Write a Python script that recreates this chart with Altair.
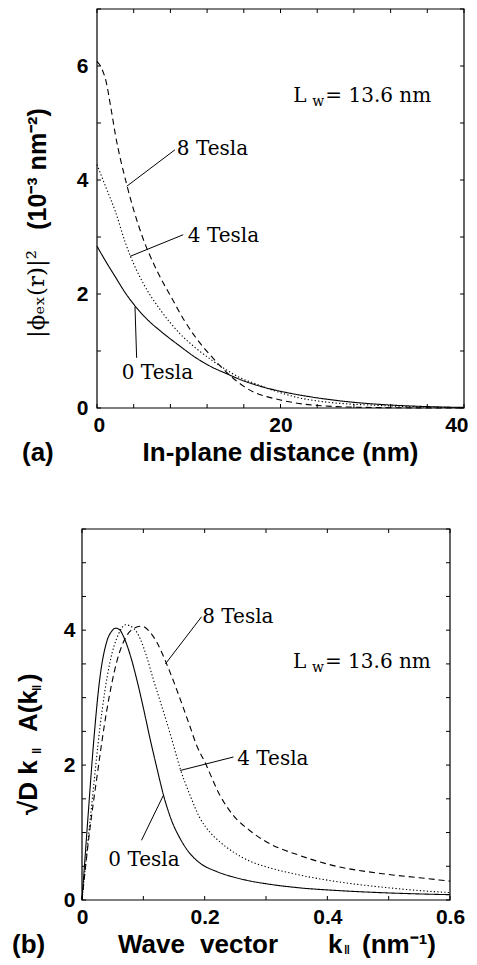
import altair as alt
import pandas as pd

SERIES = ["0 Tesla", "4 Tesla", "8 Tesla"]
DASHES = [[1, 0], [1.3, 2.2], [6, 4]]

# ---------------- Panel (a): |phi_ex(r)|^2 (1e-3 nm^-2) vs in-plane distance (nm)
a_r_0T = [0, 1, 2, 3, 4.1, 5.5, 7, 9, 10.7, 12.5, 14.3, 15.6, 17.2, 19, 21, 23.5, 26.5, 29, 32, 35, 37.5, 40]
a_v_0T = [2.84, 2.56, 2.30, 2.04, 1.80, 1.55, 1.34, 1.09, 0.89, 0.72, 0.59, 0.50, 0.41, 0.33, 0.26, 0.19, 0.125, 0.085, 0.052, 0.03, 0.018, 0.01]
a_r_4T = [0, 1, 2, 3.05, 3.6, 5, 7, 9, 10.7, 12.5, 14.3, 15.6, 17.2, 19.2, 22, 24.7, 27, 30, 34, 37, 40]
a_v_4T = [4.27, 3.86, 3.45, 2.92, 2.68, 2.2, 1.70, 1.31, 1.06, 0.84, 0.65, 0.53, 0.43, 0.31, 0.18, 0.11, 0.075, 0.05, 0.025, 0.012, 0.005]
a_r_8T = [0, 0.5, 1, 1.5, 2, 3.24, 4.87, 6.5, 8.14, 9.5, 10.7, 12.5, 14.3, 16, 17.2, 18.5, 20, 22, 24, 26, 28, 32, 40]
a_v_8T = [6.08, 5.96, 5.72, 5.28, 4.8, 3.92, 3.04, 2.42, 1.93, 1.54, 1.25, 0.9, 0.6, 0.38, 0.27, 0.2, 0.14, 0.08, 0.045, 0.025, 0.015, 0.005, 0]

a_lab_x = [2.7, 9.9, 8.7]
a_lab_y = [0.61, 3.01, 4.55]
a_lead_x1 = [4.14, 3.6, 3.24]
a_lead_y1 = [1.78, 2.66, 3.89]
a_lead_x2 = [4.32, 9.4, 8.5]
a_lead_y2 = [0.88, 3.04, 4.53]
a_lw_x = [21.4]
a_lw_y = [5.36]

# ---------------- Panel (b): sqrt(D) k A(k) vs wave vector k (nm^-1)
b_k_0T = [0, 0.01, 0.0185, 0.029, 0.040, 0.048, 0.055, 0.061, 0.067, 0.078, 0.089, 0.10, 0.111, 0.122, 0.133, 0.146, 0.16, 0.175, 0.192, 0.22, 0.247, 0.275, 0.301, 0.355, 0.41, 0.49, 0.55, 0.6]
b_v_0T = [0, 1.26, 2.29, 3.28, 3.82, 3.98, 4.03, 4.01, 3.92, 3.65, 3.28, 2.85, 2.39, 1.96, 1.55, 1.18, 0.91, 0.70, 0.55, 0.42, 0.34, 0.28, 0.24, 0.18, 0.144, 0.108, 0.09, 0.079]
b_k_4T = [0, 0.0076, 0.018, 0.029, 0.0457, 0.06, 0.071, 0.085, 0.095, 0.105, 0.116, 0.127, 0.138, 0.149, 0.16, 0.175, 0.192, 0.209, 0.225, 0.247, 0.275, 0.301, 0.355, 0.41, 0.49, 0.55, 0.6]
b_v_4T = [0, 0.68, 1.6, 2.54, 3.53, 3.95, 4.08, 4.02, 3.87, 3.62, 3.28, 2.96, 2.64, 2.3, 1.95, 1.58, 1.22, 1.0, 0.86, 0.71, 0.57, 0.49, 0.37, 0.28, 0.19, 0.14, 0.11]
b_k_8T = [0, 0.013, 0.024, 0.040, 0.0566, 0.073, 0.085, 0.097, 0.11, 0.122, 0.138, 0.149, 0.16, 0.175, 0.187, 0.2, 0.225, 0.247, 0.275, 0.301, 0.355, 0.41, 0.49, 0.55, 0.6]
b_v_8T = [0, 1.06, 1.80, 2.79, 3.53, 3.92, 4.03, 4.06, 3.98, 3.82, 3.5, 3.25, 2.98, 2.6, 2.29, 2.05, 1.55, 1.25, 1.02, 0.86, 0.66, 0.51, 0.39, 0.33, 0.28]

b_lab_x = [0.043, 0.253, 0.196]
b_lab_y = [0.59, 2.09, 4.2]
b_lead_x1 = [0.1326, 0.16, 0.136]
b_lead_y1 = [1.55, 1.92, 3.50]
b_lead_x2 = [0.097, 0.247, 0.195]
b_lead_y2 = [0.885, 2.12, 4.2]
b_lw_x = [0.344]
b_lw_y = [3.44]

a_xdom = [0, 40]
a_ydom = [0, 7]
b_xdom = [0, 0.6]
b_ydom = [0, 5.5]
a_xticks = list(range(0, 41, 4))
a_yticks = list(range(0, 8))
b_xticks = [round(i * 0.1, 1) for i in range(7)]
b_yticks = [i * 0.5 for i in range(12)]
a_xlabels = [0, 20, 40]
a_ylabels = [0, 2, 4, 6]
b_xlabels = [0, 0.2, 0.4, 0.6]
b_ylabels = [0, 2, 4]

SANS = "Liberation Sans"
SERIF = "DejaVu Serif"
ONE = pd.DataFrame({"k": [0]})
TICK = 4


def long_df(xs_list, ys_list):
    rows = []
    for name, xs, ys in zip(SERIES, xs_list, ys_list):
        for x, y in zip(xs, ys):
            rows.append({"x": x, "y": y, "series": name})
    return pd.DataFrame(rows)


def txt(text, x, y, size, font=SANS, bold=True, angle=0, align="center", baseline="middle", dx=0, dy=0):
    kw = dict(text=text, font=font, fontSize=size, color="black", align=align, baseline=baseline, dx=dx, dy=dy)
    if bold:
        kw["fontWeight"] = "bold"
    if angle:
        kw["angle"] = angle
    return alt.Chart(ONE).mark_text(**kw).encode(x=alt.value(x), y=alt.value(y))


def panel(df, xdom, ydom, xticks, yticks, xlabels, ylabels, xfmt, flush, lab, lead, lw, w, h, x0, lpad, extra, left_edge):
    xs = alt.Scale(domain=xdom, nice=False, zero=False, range=[x0, w])
    ys = alt.Scale(domain=ydom, nice=False, zero=False)
    common = dict(ticks=False, tickSize=0, domain=False, grid=False, title=None, labelFont=SANS,
                  labelFontWeight="bold", labelFontSize=21, labelColor="black", labelOverlap=False)
    if flush:
        ax_b = alt.Axis(orient="bottom", values=xlabels, format=xfmt, labelPadding=6,
                        labelFlush=True, labelFlushOffset=4, **common)
    else:
        ax_b = alt.Axis(orient="bottom", values=xlabels, format=xfmt, labelPadding=6, labelFlush=False, **common)
    ax_l = alt.Axis(orient="left", values=ylabels, format="d", labelPadding=lpad, offset=-x0,
                    labelFlush=False, **common)

    frame_df = pd.DataFrame({"xa": [xdom[0]], "xb": [xdom[1]], "ya": [ydom[0]], "yb": [ydom[1]]})
    frame = alt.Chart(frame_df).mark_rect(fill="transparent", stroke="black", strokeWidth=1.2).encode(
        x=alt.X("xa:Q", scale=xs, axis=None), x2="xb:Q",
        y=alt.Y("ya:Q", scale=ys, axis=None), y2="yb:Q")

    xt = pd.DataFrame({"v": xticks})
    yt = pd.DataFrame({"v": yticks})
    tick_top = alt.Chart(xt).mark_rule(color="black", strokeWidth=1).encode(
        x=alt.X("v:Q", scale=xs, axis=None), y=alt.value(0), y2=alt.value(TICK))
    tick_bot = alt.Chart(xt).mark_rule(color="black", strokeWidth=1).encode(
        x=alt.X("v:Q", scale=xs, axis=None), y=alt.value(h - TICK), y2=alt.value(h))
    tick_left = alt.Chart(yt).mark_rule(color="black", strokeWidth=1).encode(
        y=alt.Y("v:Q", scale=ys, axis=None), x=alt.value(x0), x2=alt.value(x0 + TICK))
    tick_right = alt.Chart(yt).mark_rule(color="black", strokeWidth=1).encode(
        y=alt.Y("v:Q", scale=ys, axis=None), x=alt.value(w - TICK), x2=alt.value(w))

    lines = alt.Chart(df).mark_line(color="black", strokeWidth=1.1, interpolate="monotone").encode(
        x=alt.X("x:Q", scale=xs, axis=ax_b),
        y=alt.Y("y:Q", scale=ys, axis=ax_l),
        strokeDash=alt.StrokeDash("series:N", scale=alt.Scale(domain=SERIES, range=DASHES), legend=None),
    )
    leaders = alt.Chart(lead).mark_rule(color="black", strokeWidth=1).encode(
        x=alt.X("x1:Q", scale=xs, axis=None),
        y=alt.Y("y1:Q", scale=ys, axis=None),
        x2="x2:Q", y2="y2:Q",
    )
    labels = alt.Chart(lab).mark_text(align="left", baseline="middle", font=SERIF, fontSize=20, color="black").encode(
        x=alt.X("x:Q", scale=xs, axis=None), y=alt.Y("y:Q", scale=ys, axis=None), text="label:N")
    base_lw = alt.Chart(lw).encode(x=alt.X("x:Q", scale=xs, axis=None), y=alt.Y("y:Q", scale=ys, axis=None))
    lw_L = base_lw.mark_text(text="L", align="left", baseline="alphabetic", font=SERIF, fontSize=20, color="black")
    lw_w = base_lw.mark_text(text="w", align="left", baseline="alphabetic", font=SERIF, fontSize=14, color="black", dx=19, dy=4)
    lw_rest = base_lw.mark_text(text="= 13.6 nm", align="left", baseline="alphabetic", font=SERIF, fontSize=20, color="black", dx=32)
    bound = alt.Chart(ONE).mark_rule(opacity=0).encode(
        x=alt.value(left_edge), x2=alt.value(left_edge), y=alt.value(10), y2=alt.value(15))
    return alt.layer(frame, tick_top, tick_bot, tick_left, tick_right, lines, leaders, labels,
                     lw_L, lw_w, lw_rest, bound, *extra).resolve_axis(
        x="independent", y="independent").properties(width=w, height=h)


df_a = long_df([a_r_0T, a_r_4T, a_r_8T], [a_v_0T, a_v_4T, a_v_8T])
df_b = long_df([b_k_0T, b_k_4T, b_k_8T], [b_v_0T, b_v_4T, b_v_8T])

lab_a = pd.DataFrame({"x": a_lab_x, "y": a_lab_y, "label": SERIES})
lead_a = pd.DataFrame({"x1": a_lead_x1, "y1": a_lead_y1, "x2": a_lead_x2, "y2": a_lead_y2})
lab_b = pd.DataFrame({"x": b_lab_x, "y": b_lab_y, "label": SERIES})
lead_b = pd.DataFrame({"x1": b_lead_x1, "y1": b_lead_y1, "x2": b_lead_x2, "y2": b_lead_y2})
lw_a = pd.DataFrame({"x": a_lw_x, "y": a_lw_y})
lw_b = pd.DataFrame({"x": b_lw_x, "y": b_lw_y})

# both panels share the same origin (page x = 82); panel (a) starts its frame 15 px further right
WA, HA, XA0 = 382, 399, 15
WB, HB = 368, 371

extra_a = [
    txt("(10⁻³  nm⁻²)", -44, 160, 25, angle=270),
    txt("|ϕₑₓ(r)|²", -45, 285, 23, font=SERIF, bold=False, angle=270),
    txt("In-plane  distance  (nm)", (XA0 + WA) / 2, 444, 26),
    txt("(a)", -60, 444, 26, align="left"),
]
TB = 416
extra_b = [
    txt("√D   k", -53, 286, 26, angle=270, align="left"),
    txt("‖", -45, 225, 13, angle=270, align="left"),
    txt("A(k", -53, 203, 26, angle=270, align="left"),
    txt("‖", -45, 162, 13, angle=270, align="left"),
    txt(")", -53, 153, 26, angle=270, align="left"),
    txt("Wave", 36, TB, 26, align="left"),
    txt("vector", 118, TB, 26, align="left"),
    txt("k", 246, TB, 26, align="left"),
    txt("‖", 262, TB + 5, 12, align="left"),
    txt("(nm⁻¹)", 280, TB, 26, align="left"),
    txt("(b)", -70, TB, 26, align="left"),
]

chart_a = panel(df_a, a_xdom, a_ydom, a_xticks, a_yticks, a_xlabels, a_ylabels, "d", True,
                lab_a, lead_a, lw_a, WA, HA, XA0, 9, extra_a, -74)
chart_b = panel(df_b, b_xdom, b_ydom, b_xticks, b_yticks, b_xlabels, b_ylabels, "~g", False,
                lab_b, lead_b, lw_b, WB, HB, 0, 7, extra_b, -74)

chart = alt.vconcat(chart_a, chart_b, spacing=62).properties(padding=0, background="white").configure_view(
    strokeWidth=0)

chart.save("out.html", embed_options={"renderer": "svg", "actions": False})
